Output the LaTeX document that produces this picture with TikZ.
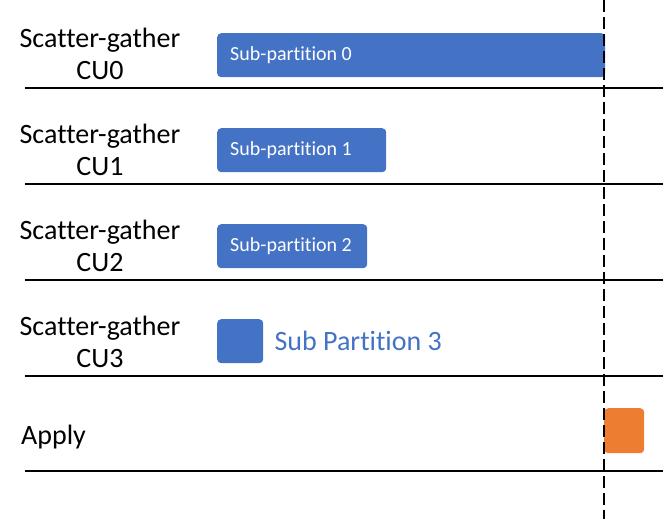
\documentclass[tikz,border=0pt]{standalone}
\usepackage{fontspec}
\setmainfont[Ligatures=NoCommon]{Carlito}
\usepackage{tikz}
\usetikzlibrary{positioning}
\definecolor{cublue}{HTML}{4472C4}
\definecolor{aporange}{HTML}{ED7D31}

\begin{document}
\begin{tikzpicture}[x=1pt,y=-1pt,
        cu/.style={align=center, font=\fontsize{28}{32}\selectfont, inner sep=0pt},
        bar/.style={fill=cublue, rounded corners=4pt, minimum height=44pt, inner sep=0pt, anchor=north west},
        bartext/.style={text=white, font=\fontsize{20}{22}\selectfont, inner sep=0pt},
        lane/.style={line width=1.6pt}]
        \useasboundingbox (0,0) rectangle (663,519);

        % lanes
        \foreach \y in {88,184,280,376,471}
            \draw[lane] (25,\y) -- (663,\y);

        \node[cu]                   (cu0)   at (100,54)    {Scatter-gather\\CU0};
        \node[cu]                   (cu1)   at (100,150)   {Scatter-gather\\CU1};
        \node[cu]                   (cu2)   at (100,246)   {Scatter-gather\\CU2};
        \node[cu]                   (cu3)   at (100,342)   {Scatter-gather\\CU3};
        \node[cu, anchor=west]      (apply) at (21,437)    {Apply};

        \node[bar, minimum width=388pt] (sp0) at (217,33)  {};
        \node[bar, minimum width=169pt] (sp1) at (217,128) {};
        \node[bar, minimum width=150pt] (sp2) at (217,224) {};
        \node[bar, minimum width=46pt]  (sp3) at (217,319) {};
        \node[bar, fill=aporange, minimum width=40pt, minimum height=45pt] (ap) at (604,408) {};

        \node[bartext, right=13pt of sp0.west] {Sub-partition 0};
        \node[bartext, right=13pt of sp1.west] {Sub-partition 1};
        \node[bartext, right=13pt of sp2.west] {Sub-partition 2};
        \node[text=cublue, font=\fontsize{28}{30}\selectfont, inner sep=0pt, right=11pt of sp3.east] {Sub Partition 3};

        % sync barrier
        \draw[line width=1.6pt, dash pattern=on 12pt off 5pt] (604,0) -- (604,519);
    \end{tikzpicture}
\end{document}
